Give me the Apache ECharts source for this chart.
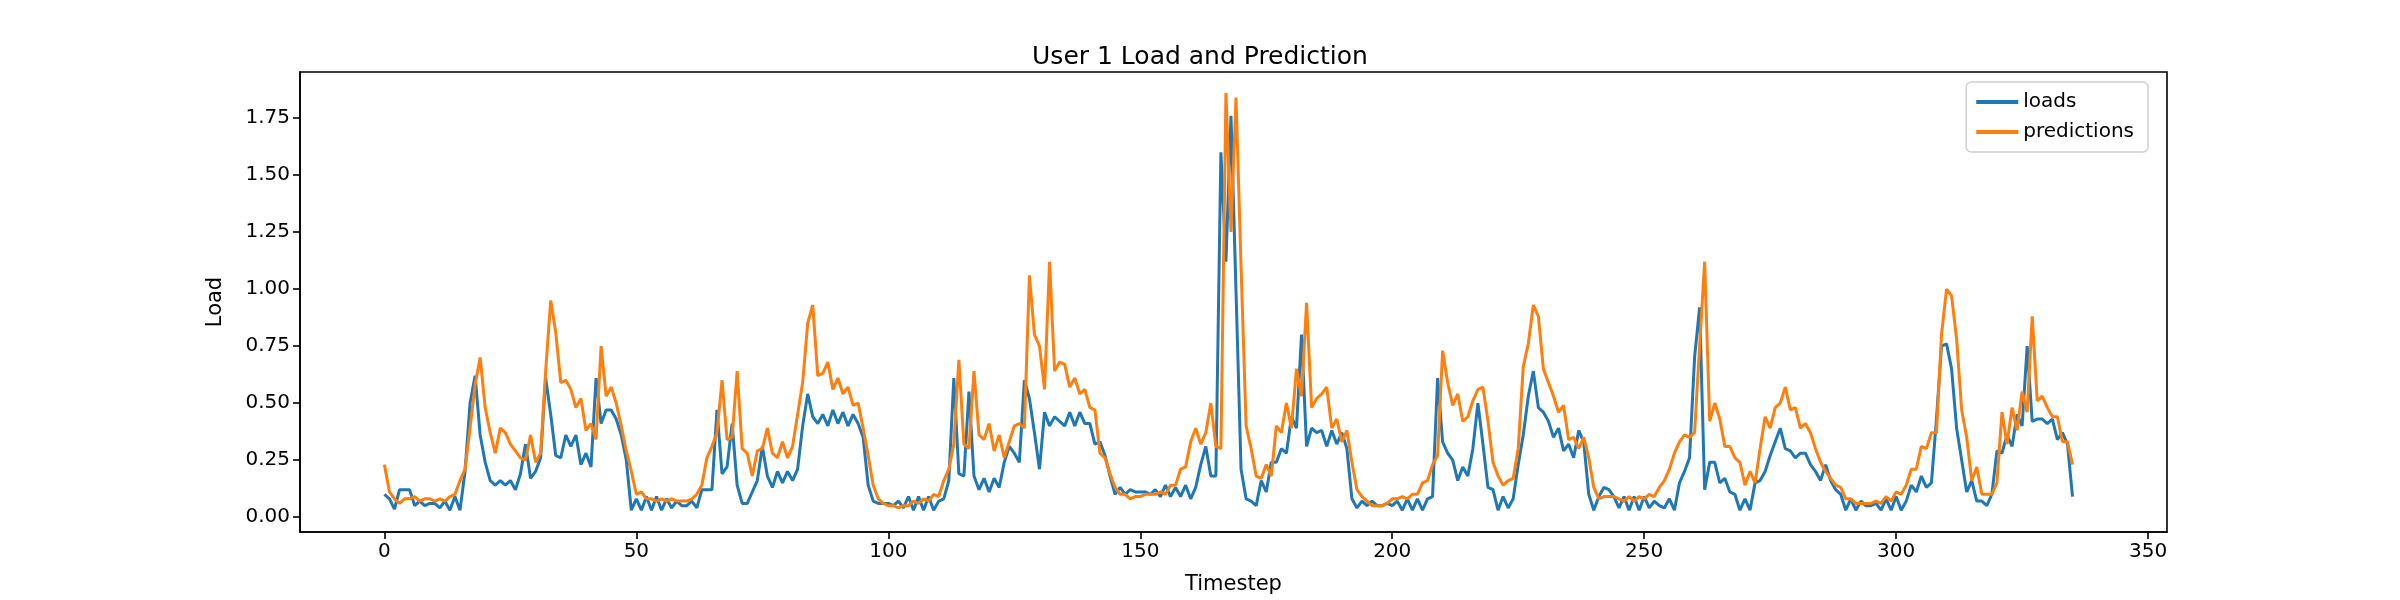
<!DOCTYPE html>
<html><head><meta charset="utf-8">
<script src="https://cdn.jsdelivr.net/npm/echarts@6/dist/echarts.min.js"></script>
<style>html,body{margin:0;padding:0;background:#fff}#c{width:2400px;height:600px}</style>
</head><body><div id="c"></div>
<script>
const title = "User 1 Load and Prediction";
const xTicks = [0,50,100,150,200,250,300,350];
const yTicks = [0,0.25,0.5,0.75,1.0,1.25,1.5,1.75];
const loadsA = [0.10,0.08,0.035,0.12,0.12,0.12,0.05,0.07,0.05,0.06,0.06,0.04,0.07,0.03,0.09,0.03,0.20,0.50,0.62,0.36,0.24,0.16,0.14,0.16,0.14,0.16,0.12,0.19,0.32,0.17,0.20,0.26,0.61,0.45];
const loadsB = [0.27,0.26,0.36,0.31,0.36,0.23,0.28,0.22,0.61,0.41,0.47,0.47,0.43,0.36,0.25,0.03,0.08,0.03,0.09,0.03,0.09,0.03,0.08,0.04,0.07,0.05,0.05,0.07,0.04,0.12,0.12,0.12,0.47];
const loadsC = [0.19,0.22,0.41,0.14,0.06,0.06,0.11,0.16,0.31,0.18,0.13,0.20,0.15,0.20,0.16,0.21,0.40,0.54,0.44,0.41,0.45,0.40,0.47,0.41,0.46,0.40,0.45,0.41,0.35,0.14,0.07,0.06,0.06,0.06];
const loadsD = [0.05,0.07,0.04,0.09,0.03,0.09,0.03,0.09,0.03,0.07,0.08,0.16,0.61,0.19,0.18,0.55,0.18,0.12,0.17,0.11,0.17,0.13,0.24,0.31,0.28,0.24,0.60,0.52,0.37,0.21,0.46,0.40,0.44,0.42];
const loadsE = [0.40,0.46,0.40,0.46,0.41,0.41,0.32,0.33,0.27,0.18,0.10,0.13,0.10,0.12,0.11,0.11,0.11,0.10,0.12,0.09,0.14,0.09,0.13,0.09,0.14,0.08,0.13,0.23,0.31,0.18,0.18,1.60,1.12,1.76,0.99,0.21,0.08];
const loadsF = [0.07,0.05,0.16,0.11,0.24,0.24,0.30,0.28,0.44,0.39,0.80,0.31,0.39,0.37,0.38,0.31,0.38,0.32,0.37,0.30,0.08,0.04,0.07,0.05,0.07,0.05,0.05,0.06,0.05,0.07,0.03,0.08,0.03,0.08];
const loadsG = [0.03,0.08,0.09,0.61,0.33,0.28,0.25,0.16,0.22,0.18,0.30,0.50,0.32,0.13,0.12,0.03,0.09,0.04,0.08,0.23,0.36,0.53,0.64,0.48,0.46,0.42,0.35,0.39,0.29,0.32,0.26,0.38,0.33,0.10];
const loadsH = [0.03,0.09,0.13,0.12,0.09,0.04,0.09,0.03,0.09,0.03,0.09,0.04,0.07,0.05,0.04,0.08,0.03,0.15,0.20,0.26,0.70,0.92,0.12,0.24,0.24,0.15,0.17,0.11,0.10,0.03,0.08,0.03,0.15];
const loadsI = [0.16,0.20,0.27,0.33,0.39,0.30,0.29,0.26,0.28,0.28,0.23,0.20,0.16,0.23,0.16,0.12,0.10,0.03,0.08,0.03,0.07,0.05,0.05,0.06,0.03,0.08,0.03,0.09,0.03,0.07,0.14,0.11,0.18,0.13];
const loadsJ = [0.15,0.43,0.75,0.76,0.65,0.39,0.25,0.11,0.16,0.07,0.07,0.05,0.10,0.29,0.28,0.36,0.31,0.45,0.40,0.75,0.42,0.43,0.43,0.41,0.43,0.34,0.37,0.32,0.09];
const predA = [0.23,0.11,0.08,0.06,0.08,0.08,0.09,0.07,0.08,0.08,0.07,0.08,0.07,0.09,0.10,0.16,0.21,0.39,0.58,0.70,0.48,0.37,0.28,0.39,0.37,0.32,0.29,0.26,0.25,0.36,0.24,0.28,0.64,0.95];
const predB = [0.81,0.59,0.60,0.56,0.48,0.52,0.38,0.41,0.34,0.75,0.53,0.57,0.50,0.40,0.29,0.20,0.10,0.11,0.08,0.08,0.07,0.08,0.07,0.08,0.07,0.07,0.07,0.08,0.10,0.14,0.26,0.31,0.37];
const predC = [0.60,0.34,0.35,0.64,0.30,0.28,0.18,0.29,0.30,0.39,0.28,0.26,0.33,0.26,0.31,0.45,0.59,0.85,0.93,0.62,0.63,0.68,0.56,0.61,0.54,0.57,0.49,0.50,0.39,0.27,0.14,0.08,0.06,0.05];
const predD = [0.05,0.04,0.05,0.05,0.07,0.06,0.08,0.07,0.10,0.09,0.16,0.21,0.32,0.69,0.32,0.30,0.64,0.36,0.34,0.41,0.29,0.36,0.26,0.33,0.40,0.41,0.39,1.06,0.80,0.75,0.56,1.12,0.64,0.68];
const predE = [0.67,0.57,0.61,0.54,0.56,0.48,0.47,0.28,0.26,0.19,0.13,0.10,0.10,0.08,0.09,0.09,0.10,0.10,0.10,0.11,0.10,0.14,0.14,0.21,0.22,0.33,0.39,0.32,0.37,0.50,0.31,0.30,1.86,1.25,1.84,1.10,0.40];
const predF = [0.30,0.18,0.17,0.23,0.18,0.40,0.37,0.50,0.39,0.65,0.53,0.94,0.48,0.52,0.54,0.57,0.39,0.43,0.33,0.38,0.24,0.12,0.09,0.07,0.05,0.05,0.05,0.06,0.08,0.08,0.09,0.08,0.10,0.10];
const predG = [0.15,0.16,0.23,0.27,0.73,0.59,0.49,0.54,0.42,0.44,0.51,0.56,0.57,0.42,0.24,0.18,0.14,0.16,0.17,0.30,0.66,0.76,0.93,0.88,0.65,0.59,0.53,0.46,0.49,0.34,0.35,0.30,0.35,0.26];
const predH = [0.13,0.08,0.09,0.09,0.09,0.08,0.07,0.09,0.07,0.09,0.08,0.10,0.09,0.13,0.16,0.21,0.28,0.33,0.36,0.35,0.37,0.75,1.12,0.42,0.50,0.43,0.31,0.31,0.26,0.24,0.14,0.20,0.15];
const predI = [0.30,0.44,0.39,0.48,0.50,0.57,0.47,0.48,0.39,0.41,0.37,0.30,0.24,0.20,0.17,0.14,0.13,0.08,0.08,0.06,0.06,0.06,0.06,0.07,0.06,0.09,0.07,0.11,0.10,0.14,0.21,0.21,0.31,0.30];
const predJ = [0.37,0.37,0.80,1.00,0.97,0.78,0.47,0.35,0.16,0.22,0.10,0.10,0.10,0.15,0.46,0.32,0.48,0.38,0.55,0.46,0.88,0.51,0.53,0.48,0.44,0.44,0.33,0.33,0.23];

const loads = [].concat(loadsA,loadsB,loadsC,loadsD,loadsE,loadsF,loadsG,loadsH,loadsI,loadsJ);
const preds = [].concat(predA,predB,predC,predD,predE,predF,predG,predH,predI,predJ);
const toPairs = a => a.map((v,i)=>[i,v]);

const F = 'DejaVu Sans';
const chart = echarts.init(document.getElementById('c'), null, {renderer:'canvas'});
chart.setOption({
  animation:false,
  backgroundColor:'#fff',
  title:{text:title,left:'center',top:40,textStyle:{fontFamily:F,fontSize:25,fontWeight:'normal',color:'#000'}},
  legend:{orient:'vertical',right:252,top:82,itemWidth:42,itemHeight:4,itemGap:10,
    padding:[10,14,10,10],backgroundColor:'#fff',borderColor:'#d0d0d0',borderWidth:1.5,borderRadius:5,
    textStyle:{fontFamily:F,fontSize:20,color:'#000'},
    data:[{name:'loads',icon:'rect'},{name:'predictions',icon:'rect'}]},
  grid:{left:300,right:233,top:72,bottom:66,show:true,borderColor:'#000',borderWidth:1.6,backgroundColor:'transparent'},
  xAxis:{type:'value',min:-16.75,max:353.75,name:'Timestep',nameLocation:'middle',nameGap:42,
    nameTextStyle:{fontFamily:F,fontSize:21,color:'#000'},
    splitLine:{show:false},
    axisLine:{show:true,onZero:false,lineStyle:{color:'#000',width:1.6}},
    axisTick:{show:true,customValues:xTicks,length:7,lineStyle:{color:'#000',width:1.6}},
    axisLabel:{customValues:xTicks,fontFamily:F,fontSize:20,color:'#000',margin:10}},
  yAxis:{type:'value',min:-0.0655,max:1.952,name:'Load',nameLocation:'middle',nameGap:74,nameRotate:90,
    nameTextStyle:{fontFamily:F,fontSize:21,color:'#000'},
    splitLine:{show:false},
    axisLine:{show:true,onZero:false,lineStyle:{color:'#000',width:1.6}},
    axisTick:{show:true,customValues:yTicks,length:7,lineStyle:{color:'#000',width:1.6}},
    axisLabel:{customValues:yTicks,fontFamily:F,fontSize:20,color:'#000',margin:10,formatter:v=>v.toFixed(2)}},
  series:[
    {name:'loads',type:'line',data:toPairs(loads),showSymbol:false,symbol:'none',color:'#1f77b4',lineStyle:{width:3,color:'#1f77b4'}},
    {name:'predictions',type:'line',data:toPairs(preds),showSymbol:false,symbol:'none',color:'#ff7f0e',lineStyle:{width:3,color:'#ff7f0e'}}
  ]
});
</script></body></html>
